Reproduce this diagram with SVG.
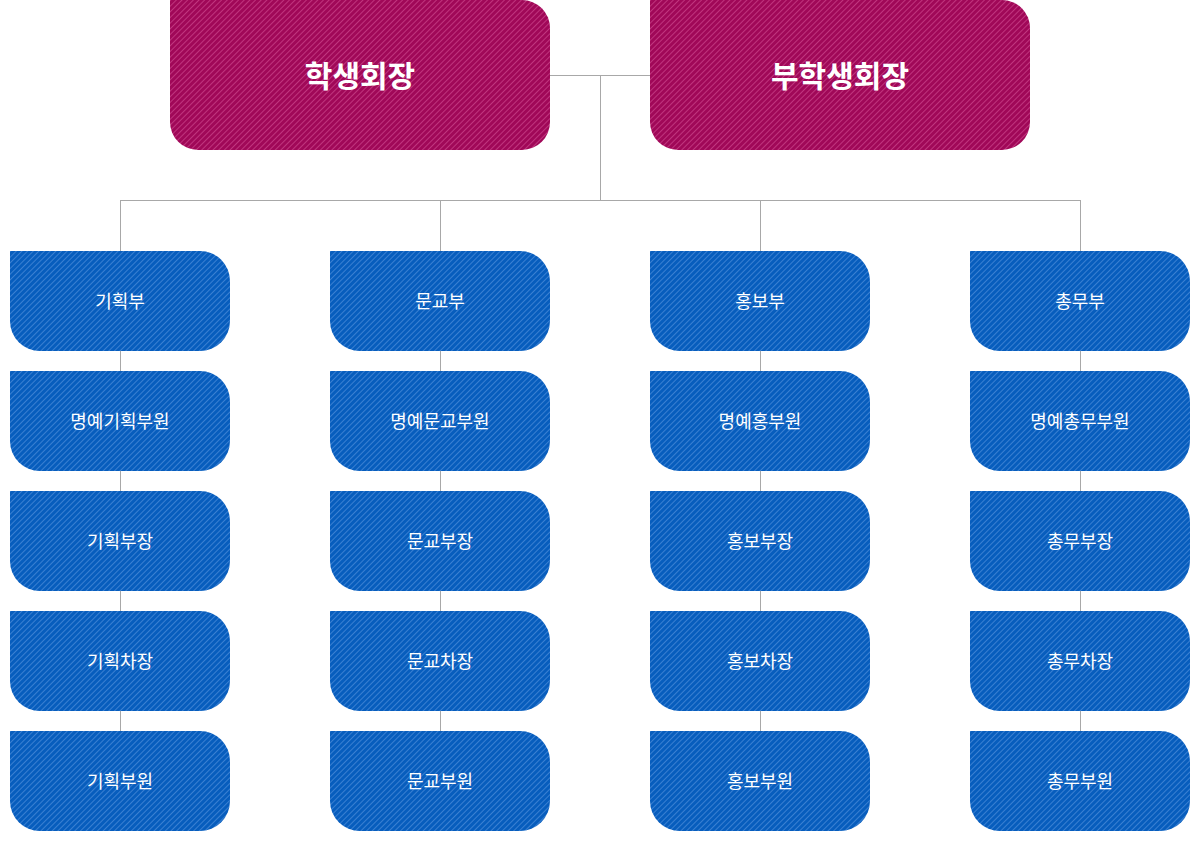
<svg xmlns="http://www.w3.org/2000/svg" xmlns:xlink="http://www.w3.org/1999/xlink" width="1200" height="850" viewBox="0 0 1200 850">
<defs>
<pattern id="pm" patternUnits="userSpaceOnUse" width="4" height="4" patternTransform="rotate(45)">
<rect width="4" height="4" fill="#a00858"/>
<rect width="1" height="4" fill="#c0357e"/>
</pattern>
<pattern id="pb" patternUnits="userSpaceOnUse" width="4" height="4" patternTransform="rotate(45)">
<rect width="4" height="4" fill="#075dbd"/>
<rect width="1" height="4" fill="#3a80d2"/>
</pattern>
<path id="big" d="M0,0 H352 A28,28 0 0 1 380,28 V122 A28,28 0 0 1 352,150 H28 A28,28 0 0 1 0,122 Z"/>
<path id="sm" d="M0,0 H190 A30,30 0 0 1 220,30 V70 A30,30 0 0 1 190,100 H30 A30,30 0 0 1 0,70 Z"/>
</defs>
<style>
.big{fill:url(#pm)}
.sm{fill:url(#pb)}
.tb{font-family:"Noto Sans CJK KR","Noto Sans",sans-serif;font-size:30px;font-weight:bold;fill:#fff;text-anchor:middle;dominant-baseline:central}
.ts{font-family:"Noto Sans CJK KR","Noto Sans",sans-serif;font-size:18px;fill:#fff;text-anchor:middle;dominant-baseline:central}
.ln{stroke:#a8a8a8;stroke-width:1;fill:none}
</style>
<g id="connectors">
<path class="ln" d="M550,75.5 H650 M600.5,75 V200.5 M120,200.5 H1081 M120.5,200 V251 M440.5,200 V251 M760.5,200 V251 M1080.5,200 V251"/>
<path class="ln" d="M120.5,351 V371 M120.5,471 V491 M120.5,591 V611 M120.5,711 V731"/>
<path class="ln" d="M440.5,351 V371 M440.5,471 V491 M440.5,591 V611 M440.5,711 V731"/>
<path class="ln" d="M760.5,351 V371 M760.5,471 V491 M760.5,591 V611 M760.5,711 V731"/>
<path class="ln" d="M1080.5,351 V371 M1080.5,471 V491 M1080.5,591 V611 M1080.5,711 V731"/>
</g>
<g id="n-president"><use href="#big" x="170" y="0" class="big"/><text class="tb" x="360" y="74">학생회장</text></g>
<g id="n-vice"><use href="#big" x="650" y="0" class="big"/><text class="tb" x="840" y="74">부학생회장</text></g>

<g id="c1r1"><use href="#sm" x="10" y="251" class="sm"/><text class="ts" x="120" y="300">기획부</text></g>
<g id="c1r2"><use href="#sm" x="10" y="371" class="sm"/><text class="ts" x="120" y="420">명예기획부원</text></g>
<g id="c1r3"><use href="#sm" x="10" y="491" class="sm"/><text class="ts" x="120" y="540">기획부장</text></g>
<g id="c1r4"><use href="#sm" x="10" y="611" class="sm"/><text class="ts" x="120" y="660">기획차장</text></g>
<g id="c1r5"><use href="#sm" x="10" y="731" class="sm"/><text class="ts" x="120" y="780">기획부원</text></g>

<g id="c2r1"><use href="#sm" x="330" y="251" class="sm"/><text class="ts" x="440" y="300">문교부</text></g>
<g id="c2r2"><use href="#sm" x="330" y="371" class="sm"/><text class="ts" x="440" y="420">명예문교부원</text></g>
<g id="c2r3"><use href="#sm" x="330" y="491" class="sm"/><text class="ts" x="440" y="540">문교부장</text></g>
<g id="c2r4"><use href="#sm" x="330" y="611" class="sm"/><text class="ts" x="440" y="660">문교차장</text></g>
<g id="c2r5"><use href="#sm" x="330" y="731" class="sm"/><text class="ts" x="440" y="780">문교부원</text></g>

<g id="c3r1"><use href="#sm" x="650" y="251" class="sm"/><text class="ts" x="760" y="300">홍보부</text></g>
<g id="c3r2"><use href="#sm" x="650" y="371" class="sm"/><text class="ts" x="760" y="420">명예홍부원</text></g>
<g id="c3r3"><use href="#sm" x="650" y="491" class="sm"/><text class="ts" x="760" y="540">홍보부장</text></g>
<g id="c3r4"><use href="#sm" x="650" y="611" class="sm"/><text class="ts" x="760" y="660">홍보차장</text></g>
<g id="c3r5"><use href="#sm" x="650" y="731" class="sm"/><text class="ts" x="760" y="780">홍보부원</text></g>

<g id="c4r1"><use href="#sm" x="970" y="251" class="sm"/><text class="ts" x="1080" y="300">총무부</text></g>
<g id="c4r2"><use href="#sm" x="970" y="371" class="sm"/><text class="ts" x="1080" y="420">명예총무부원</text></g>
<g id="c4r3"><use href="#sm" x="970" y="491" class="sm"/><text class="ts" x="1080" y="540">총무부장</text></g>
<g id="c4r4"><use href="#sm" x="970" y="611" class="sm"/><text class="ts" x="1080" y="660">총무차장</text></g>
<g id="c4r5"><use href="#sm" x="970" y="731" class="sm"/><text class="ts" x="1080" y="780">총무부원</text></g>
</svg>
